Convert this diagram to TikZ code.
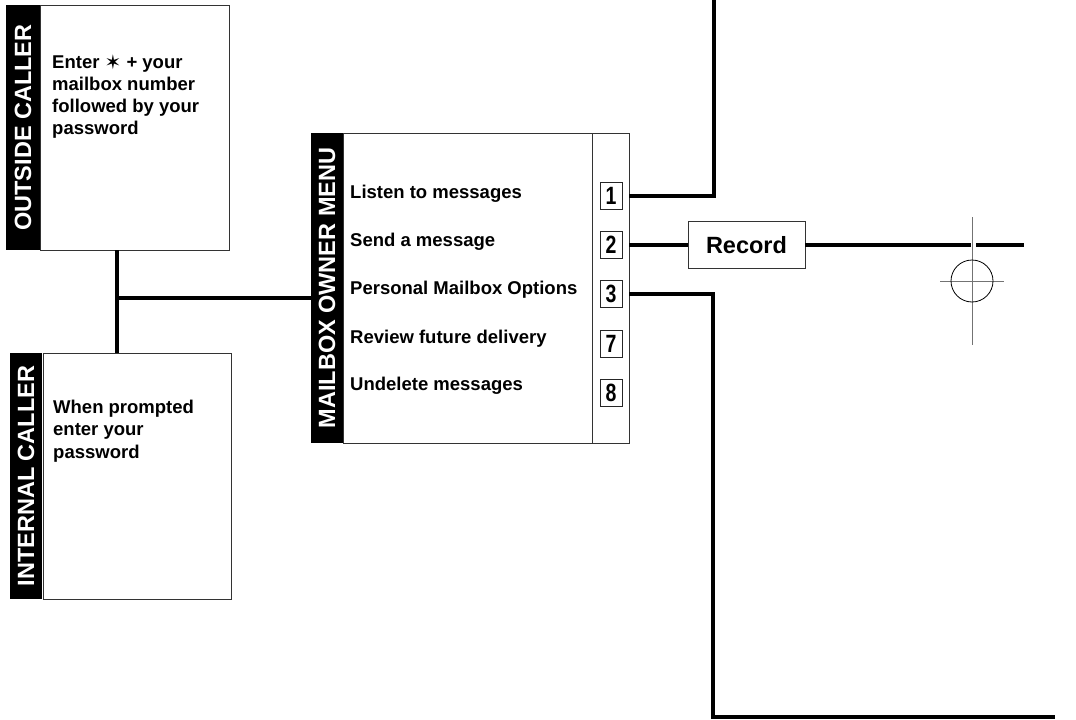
\documentclass[tikz,border=0pt]{standalone}
\usepackage{fontspec}
\setmainfont{Liberation Sans}
\newfontfamily\starfont{DejaVu Sans}
\usepackage{tikz}
\usetikzlibrary{positioning}

\tikzset{
  band/.style={fill=black, text=white, rotate=90, inner sep=0pt, font=\fontsize{23.5}{23.5}\selectfont\bfseries},
  panel/.style={draw=black!80, line width=0.8pt, fill=white, inner sep=0pt},
  note/.style={align=left, inner sep=0pt, anchor=north west, font=\fontsize{18.5}{22.3}\selectfont\bfseries},
  item/.style={inner sep=0pt, anchor=base west, font=\fontsize{18.5}{18.5}\selectfont\bfseries},
  numbox/.style={draw=black!85, line width=0.8pt, fill=white, minimum width=22pt, minimum height=27pt, inner sep=0pt, font=\fontsize{25}{25}\selectfont\bfseries},
  conn/.style={line width=3.2pt, line join=miter}
}

\begin{document}
\begin{tikzpicture}[x=1pt, y=-1pt]
        \useasboundingbox (0,0) rectangle (1076,720);

        \node[band, minimum width=245pt, minimum height=34pt] (outband) at (23,127.5) {OUTSIDE CALLER};
        \node[panel, minimum width=189pt, minimum height=245pt] (outbox) at (134.5,127.5) {};
        \node[note] (outtxt) at (52,54) {Enter {\starfont\fontsize{20}{20}\selectfont\raisebox{-1pt}{✶}} + your\\mailbox number\\followed by your\\password};

        \node[band, minimum width=246pt, minimum height=32pt] (inband) at (26,476) {INTERNAL CALLER};
        \node[panel, minimum width=188pt, minimum height=246pt] (inbox) at (137,476) {};
        \node[note] (intxt) at (53,400) {When prompted\\enter your\\password};

        \node[band, minimum width=310pt, minimum height=32pt] (menuband) at (327,288) {MAILBOX OWNER MENU};
        \node[panel, minimum width=249pt, minimum height=310pt] (menubox) at (467.5,288) {};
        \node[panel, minimum width=37pt, minimum height=310pt] (keycol) at (610.5,288) {};

        \node[item] (listen) at (350,198) {Listen to messages};
        \node[item] (send) at (350,246) {Send a message};
        \node[item] (personal) at (350,294) {Personal Mailbox Options};
        \node[item] (future) at (350,343) {Review future delivery};
        \node[item] (undelete) at (350,390) {Undelete messages};

        \node[numbox] (key1) at (611,196) {\scalebox{0.78}[1]{1}};
        \node[numbox] (key2) at (611,245) {\scalebox{0.78}[1]{2}};
        \node[numbox] (key3) at (611,294) {\scalebox{0.78}[1]{3}};
        \node[numbox] (key7) at (611,344) {\scalebox{0.78}[1]{7}};
        \node[numbox] (key8) at (611,393) {\scalebox{0.78}[1]{8}};

        \node[panel, minimum width=117pt, minimum height=47pt, font=\fontsize{23.5}{23.5}\selectfont\bfseries] (record) at (746.5,245) {Record};

        \coordinate (tee) at (117,298);
        \coordinate (up1) at (714,0);
        \coordinate (turn3) at (713,717);
        \coordinate (end3) at (1055,717);
        \coordinate (end2) at (1024,245);
        \coordinate (cross) at (972,281);

        \draw[conn] (outbox.south -| tee) -- (inbox.north -| tee);
        \draw[conn] (tee) -- (tee -| menuband.north);
        \draw[conn] (keycol.east |- key1) -| (up1);
        \draw[conn] (keycol.east |- key2) -- (record.west);
        \draw[conn] (record.east) -- (end2);
        \draw[conn] (keycol.east |- key3) -| (turn3) -- (end3);

        \draw[white, line width=5pt] (973.5,239) -- (973.5,251);
        \draw[black!55, line width=1pt] (972,217) -- (972,345);
        \draw[black!55, line width=1pt] (940,281) -- (1004,281);
        \draw[line width=0.8pt] (cross) circle (21pt);
    \end{tikzpicture}
\end{document}
